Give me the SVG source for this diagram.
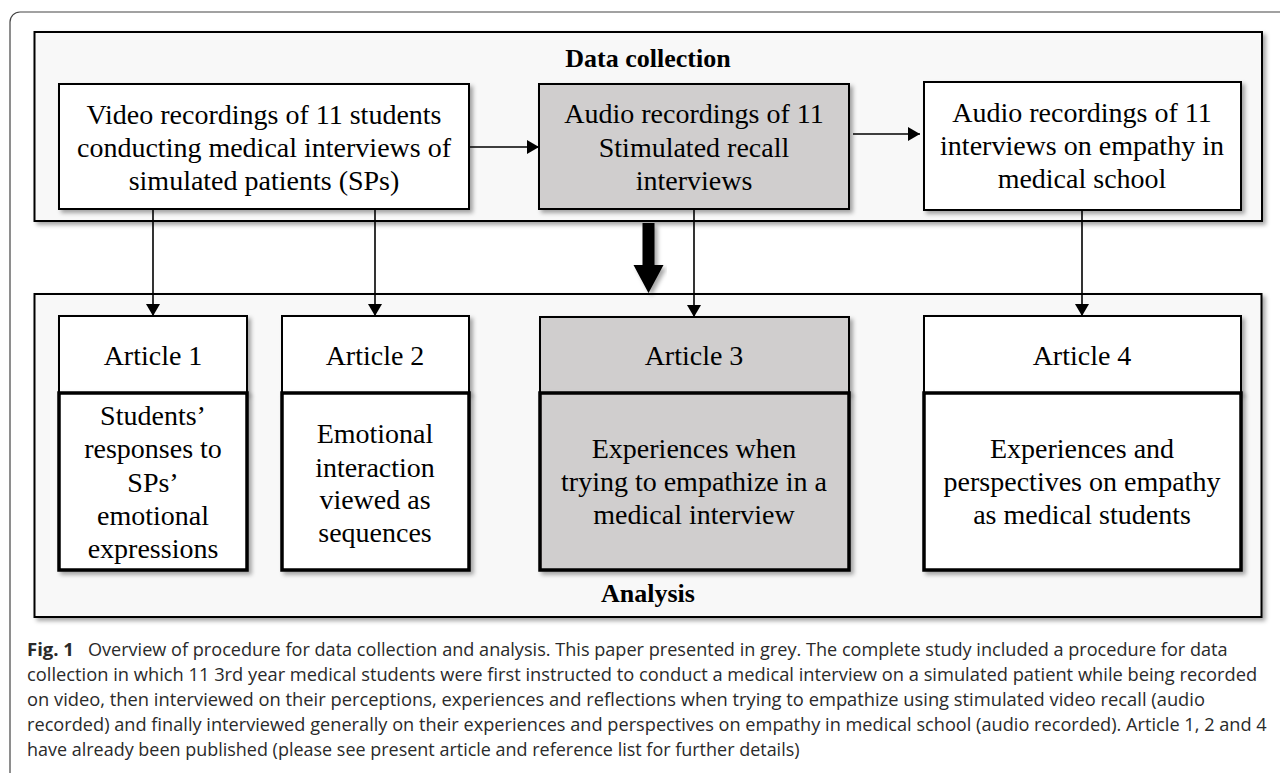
<svg xmlns="http://www.w3.org/2000/svg" width="1280" height="773" viewBox="0 0 1280 773">
<defs>
<filter id="sh" x="-5%" y="-5%" width="115%" height="120%">
<feDropShadow dx="3" dy="3" stdDeviation="2" flood-color="#000" flood-opacity="0.35"/>
</filter>
<marker id="ah" markerUnits="userSpaceOnUse" markerWidth="14" markerHeight="14" viewBox="0 0 12 14" refX="12" refY="7" orient="auto">
<path d="M0,0 L12,7 L0,14 Z" fill="#000"/>
</marker>
<style>
.t{font-family:"Liberation Serif","Times New Roman",serif;font-size:28px;fill:#000;text-anchor:middle}
.b{font-family:"Liberation Serif","Times New Roman",serif;font-size:26px;font-weight:bold;fill:#000;text-anchor:middle}
.box{fill:#fff;stroke:#000;stroke-width:2}
.grey{fill:#d0cece;stroke:#000;stroke-width:2}
.body{fill:#fff;stroke:#000;stroke-width:3.5}
.bodyg{fill:#d0cece;stroke:#000;stroke-width:3.5}
.cont{fill:#f8f8f8;stroke:#000;stroke-width:2}
.ln{stroke:#000;stroke-width:1.6;fill:none}
.cap{font-family:"Open Sans","Noto Sans","Liberation Sans",sans-serif;font-size:18.5px;fill:#2a2a2a}
</style>
</defs>
<rect x="10" y="12" width="1300" height="800" rx="10" ry="10" fill="#fff" stroke="#444" stroke-width="1.2"/>

<g id="data-collection">
<rect class="cont" x="34.5" y="32" width="1227.5" height="189" filter="url(#sh)"/>
<text class="b" x="648" y="67">Data collection</text>
</g>
<g id="analysis">
<rect class="cont" x="34.5" y="294" width="1227" height="323" filter="url(#sh)"/>
<text class="b" x="648" y="602">Analysis</text>
</g>

<g id="video">
<rect class="box" x="59" y="84" width="410" height="125" filter="url(#sh)"/>
<text class="t" x="264" y="124">Video recordings of 11 students</text>
<text class="t" x="264" y="157">conducting medical interviews of</text>
<text class="t" x="264" y="190">simulated patients (SPs)</text>
</g>
<g id="audio-recall">
<rect class="grey" x="539" y="84" width="310" height="125" filter="url(#sh)"/>
<text class="t" x="694" y="123">Audio recordings of 11</text>
<text class="t" x="694" y="157">Stimulated recall</text>
<text class="t" x="694" y="190">interviews</text>
</g>
<g id="audio-empathy">
<rect class="box" x="924" y="82" width="317" height="128" filter="url(#sh)"/>
<text class="t" x="1082" y="122">Audio recordings of 11</text>
<text class="t" x="1082" y="155">interviews on empathy in</text>
<text class="t" x="1082" y="188">medical school</text>
</g>

<g id="article1">
<rect class="box" x="59" y="316" width="188" height="77" filter="url(#sh)"/>
<rect class="body" x="59" y="393" width="188" height="177" filter="url(#sh)"/>
<text class="t" x="153" y="365">Article 1</text>
<text class="t" x="153" y="425">Students’</text>
<text class="t" x="153" y="458">responses to</text>
<text class="t" x="153" y="491.5">SPs’</text>
<text class="t" x="153" y="525">emotional</text>
<text class="t" x="153" y="558">expressions</text>
</g>
<g id="article2">
<rect class="box" x="282" y="316" width="187" height="77" filter="url(#sh)"/>
<rect class="body" x="282" y="393" width="187" height="177" filter="url(#sh)"/>
<text class="t" x="375" y="365">Article 2</text>
<text class="t" x="375" y="443">Emotional</text>
<text class="t" x="375" y="476.5">interaction</text>
<text class="t" x="375" y="509">viewed as</text>
<text class="t" x="375" y="542">sequences</text>
</g>
<g id="article3">
<rect class="grey" x="540" y="317" width="309" height="76" filter="url(#sh)"/>
<rect class="bodyg" x="540" y="393" width="309" height="177" filter="url(#sh)"/>
<text class="t" x="694" y="365">Article 3</text>
<text class="t" x="694" y="458">Experiences when</text>
<text class="t" x="694" y="491">trying to empathize in a</text>
<text class="t" x="694" y="524">medical interview</text>
</g>
<g id="article4">
<rect class="box" x="924" y="316" width="317" height="77" filter="url(#sh)"/>
<rect class="body" x="924" y="393" width="317" height="177" filter="url(#sh)"/>
<text class="t" x="1082" y="365">Article 4</text>
<text class="t" x="1082" y="458">Experiences and</text>
<text class="t" x="1082" y="491">perspectives on empathy</text>
<text class="t" x="1082" y="524">as medical students</text>
</g>

<g id="connectors">
<line class="ln" x1="469" y1="147" x2="539" y2="147" marker-end="url(#ah)"/>
<line class="ln" x1="853" y1="134" x2="920" y2="134" marker-end="url(#ah)"/>
<line class="ln" x1="153" y1="209" x2="153" y2="316" marker-end="url(#ah)"/>
<line class="ln" x1="375" y1="209" x2="375" y2="316" marker-end="url(#ah)"/>
<line class="ln" x1="694" y1="209" x2="694" y2="317" marker-end="url(#ah)"/>
<line class="ln" x1="1082" y1="210" x2="1082" y2="316" marker-end="url(#ah)"/>
<path d="M642.5,223 L654.5,223 L654.5,265 L663.5,265 L648.5,293 L633.5,265 L642.5,265 Z" fill="#000" filter="url(#sh)"/>
</g>

<g id="caption" transform="translate(27,0) scale(0.87,1)">
<text class="cap" x="0" y="656" font-weight="bold" font-size="19.5" textLength="54" lengthAdjust="spacingAndGlyphs">Fig. 1</text>
<text class="cap" x="70" y="656" textLength="1310" lengthAdjust="spacingAndGlyphs">Overview of procedure for data collection and analysis. This paper presented in grey. The complete study included a procedure for data</text>
<text class="cap" x="0" y="681" textLength="1414" lengthAdjust="spacingAndGlyphs">collection in which 11 3rd year medical students were first instructed to conduct a medical interview on a simulated patient while being recorded</text>
<text class="cap" x="0" y="706" textLength="1354" lengthAdjust="spacingAndGlyphs">on video, then interviewed on their perceptions, experiences and reflections when trying to empathize using stimulated video recall (audio</text>
<text class="cap" x="0" y="731" textLength="1425" lengthAdjust="spacingAndGlyphs">recorded) and finally interviewed generally on their experiences and perspectives on empathy in medical school (audio recorded). Article 1, 2 and 4</text>
<text class="cap" x="0" y="756" textLength="888" lengthAdjust="spacingAndGlyphs">have already been published (please see present article and reference list for further details)</text>
</g>
</svg>
